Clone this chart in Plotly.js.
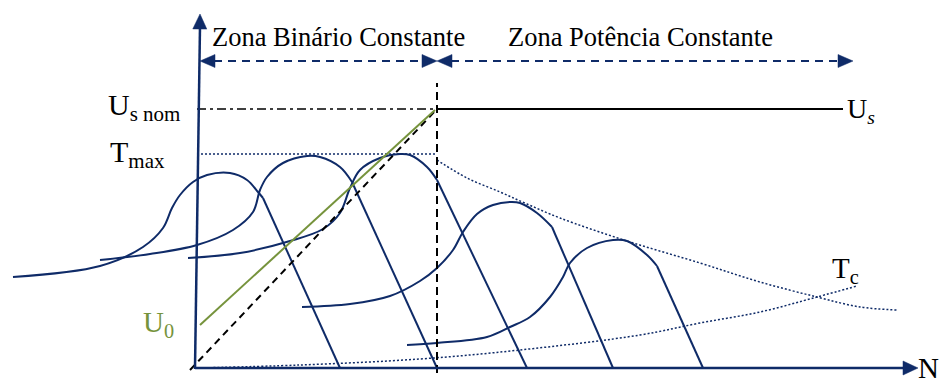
<!DOCTYPE html>
<html>
<head>
<meta charset="utf-8">
<script src="https://cdn.plot.ly/plotly-3.0.1.min.js"></script>
<style>html,body{margin:0;padding:0;background:#fff;}#chart{width:939px;height:378px;}</style>
</head>
<body>
<div id="chart"></div>
<script>
// Speed (N) / torque (T) values of the schematic, origin at the axes crossing
const curve1N = [-184, -97, -54, -34, -25, -17, -4, 10, 33, 50, 61, 66, 143];
const curve1T = [91, 102, 121, 140, 160, 173, 186, 193, 195, 188, 176, 170, 0];
const curve2N = [-97, -47, 0, 36, 56, 63, 70, 86, 110, 123, 143, 155, 240];
const curve2T = [108, 114, 123, 138, 156, 178, 191, 205, 212, 211, 201, 186, 0];
const curve3N = [-9, 43, 93, 126, 143, 153, 163, 183, 203, 213, 230, 240, 330];
const curve3T = [110, 115, 127, 139, 155, 180, 198, 210, 214, 213, 201, 188, 0];
const curve4N = [105, 153, 193, 223, 240, 256, 266, 280, 296, 313, 323, 340, 355, 416];
const curve4T = [61, 64, 72, 87, 100, 118, 136, 154, 163, 166, 165, 155, 141, 0];
const curve5N = [210, 240, 290, 313, 333, 353, 366, 373, 390, 416, 430, 450, 460, 506];
const curve5T = [23, 25, 31, 41, 51, 71, 91, 105, 120, 128, 127, 113, 102, 0];

const tmaxN = [0, 240];
const tmaxT = [214, 214];
const powerN = [240, 270, 303, 330, 363, 430, 503, 563, 620, 663, 700];
const powerT = [208, 190, 176, 164, 150, 127, 105, 86, 71, 61, 58];
const tcN = [0, 103, 223, 323, 443, 503, 563, 620, 660];
const tcT = [0, 3, 9, 18, 33, 45, 56, 71, 82];

const usNomN = [0, 240];
const usNomT = [259, 259];
const usN = [240, 646];
const usT = [259, 259];
const u0N = [3, 238];
const u0T = [43, 258];
const vfN = [-7, 240];
const vfT = [-2, 259];
const baseSpeedN = [240, 240];
const baseSpeedT = [-5, 285];

const zoneY = 307;
const zone1N = [3, 240];
const zone2N = [240, 656];

const axisNx = [-2, 721];
const axisNy = [0, 0];
const axisTx = [-2, 3];
const axisTy = [-1, 354];

const labels = {
  zone1: 'Zona Binário Constante',
  zone2: 'Zona Potência Constante',
  usNom: 'U<sub>s nom</sub>',
  tmax: 'T<sub>max</sub>',
  u0: 'U<sub>0</sub>',
  us: 'U<sub><i>s</i></sub>',
  tc: 'T<sub>c</sub>',
  n: 'N'
};

const NAVY = '#0f2b68';
const GREEN = '#76933c';
const FONT = 'Liberation Serif, Times New Roman, serif';

const traces = [];
function line(x, y, color, width, dash, shape) {
  traces.push({x: x, y: y, type: 'scatter', mode: 'lines', hoverinfo: 'skip',
    line: {color: color, width: width, dash: dash || 'solid', shape: shape || 'linear'}});
}
function torqueCurve(N, T) {
  const k = N.length - 1;
  line(N.slice(0, k), T.slice(0, k), NAVY, 2, 'solid', 'spline');
  line(N.slice(k - 1), T.slice(k - 1), NAVY, 2, 'solid', 'linear');
}
function head(tx, ty, dx, dy, len, hw, color) {
  const bx = tx - dx * len, by = ty - dy * len;
  const px = -dy, py = dx;
  traces.push({x: [tx, bx + px * hw, bx - px * hw, tx], y: [ty, by + py * hw, by - py * hw, ty],
    type: 'scatter', mode: 'lines', fill: 'toself', fillcolor: color, hoverinfo: 'skip',
    line: {color: color, width: 0.5}});
}

torqueCurve(curve1N, curve1T);
torqueCurve(curve2N, curve2T);
torqueCurve(curve3N, curve3T);
torqueCurve(curve4N, curve4T);
torqueCurve(curve5N, curve5T);

line(tmaxN, tmaxT, NAVY, 1.5, '2px,2px');
line(powerN, powerT, NAVY, 1.5, '2px,2px', 'spline');
line(tcN, tcT, NAVY, 1.5, '2px,2px', 'spline');

line(usNomN, usNomT, '#000', 1.5, '9px,4px,3px,4px');
line(usN, usT, '#000', 2);
line(vfN, vfT, '#000', 2, '7px,5px');
line(u0N, u0T, GREEN, 2);
line(baseSpeedN, baseSpeedT, '#000', 2, '8px,5px');

// zone arrows
line([zone1N[0] + 14, zone1N[1] - 14], [zoneY, zoneY], NAVY, 2, '8px,6px');
line([zone2N[0] + 14, zone2N[1] - 14], [zoneY, zoneY], NAVY, 2, '8px,6px');
head(zone1N[0], zoneY, -1, 0, 15, 6.5, NAVY);
head(zone1N[1], zoneY, 1, 0, 15, 6.5, NAVY);
head(zone2N[0], zoneY, -1, 0, 15, 6.5, NAVY);
head(zone2N[1], zoneY, 1, 0, 15, 6.5, NAVY);

// axes
line([axisNx[0], axisNx[1] - 12], axisNy, NAVY, 2.5);
line([axisTx[0], axisTx[1]], [axisTy[0], axisTy[1] - 12], NAVY, 2.5);
head(axisNx[1], axisNy[1], 1, 0, 15, 7, NAVY);
(function () {
  const dx = axisTx[1] - axisTx[0], dy = axisTy[1] - axisTy[0];
  const l = Math.hypot(dx, dy);
  head(axisTx[1], axisTy[1], dx / l, dy / l, 15, 7, NAVY);
})();

function ann(text, x, y, size, color, xanchor, yanchor) {
  return {text: text, x: x, y: y, xref: 'x', yref: 'y', showarrow: false,
    xanchor: xanchor || 'left', yanchor: yanchor || 'middle',
    font: {family: FONT, size: size, color: color || '#000'}};
}

const annotations = [
  ann(labels.zone1, 141, 331, 26.5, '#000', 'center'),
  ann(labels.zone2, 443, 331, 26.5, '#000', 'center'),
  ann(labels.usNom, -91, 261, 30),
  ann(labels.tmax, -89, 214, 30),
  ann(labels.u0, -56, 44, 29, GREEN),
  ann(labels.us, 648, 258, 28),
  ann(labels.tc, 633, 98, 29),
  ann(labels.n, 719, 0, 29)
];

const layout = {
  width: 939, height: 378,
  margin: {l: 0, r: 0, t: 0, b: 0},
  paper_bgcolor: '#fff', plot_bgcolor: '#fff',
  showlegend: false,
  xaxis: {range: [-197, 742], visible: false, fixedrange: true},
  yaxis: {range: [-10, 368], visible: false, fixedrange: true},
  annotations: annotations
};

Plotly.newPlot('chart', traces, layout, {staticPlot: true, displayModeBar: false});
</script>
</body>
</html>
